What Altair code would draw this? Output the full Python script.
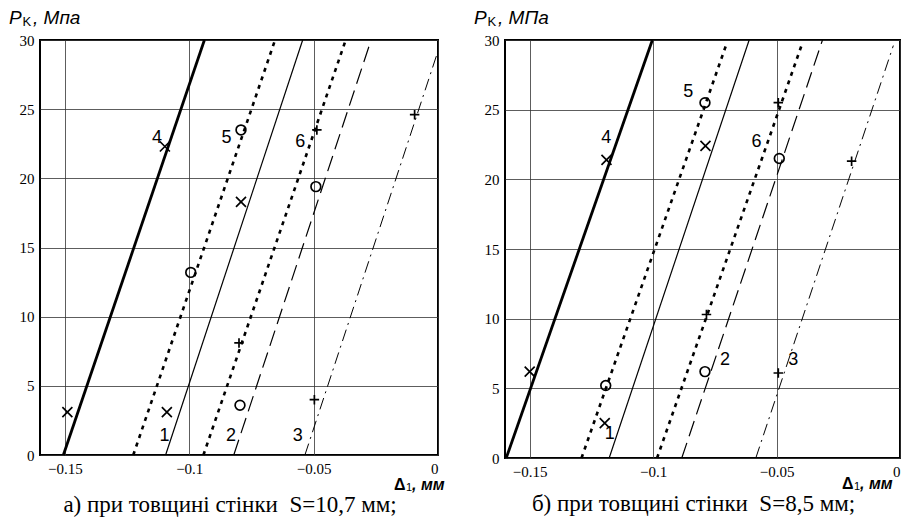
import altair as alt
import pandas as pd

curves = ["1", "2", "3", "4", "5", "6"]

# panel a: line end points
a_x0 = [-0.1095, -0.0821, -0.0535, -0.1506, -0.1225, -0.0943]
a_y0 = [0, 0, 0, 0, 0, 0]
a_x1 = [-0.0544, -0.0269, 0.0, -0.0939, -0.0655, -0.0371]
a_y1 = [30, 30, 29.2, 30, 30, 30]

# panel b
b_x0 = [-0.1178, -0.0884, -0.0584, -0.1595, -0.129, -0.0984]
b_y0 = [0, 0, 0, 0, 0, 0]
b_x1 = [-0.0611, -0.0314, -0.0027, -0.1003, -0.0705, -0.0395]
b_y1 = [30, 30, 29.6, 30, 29.6, 29.8]

# experimental points
a_mx = [-0.149, -0.109, -0.0796, -0.0497, -0.080, -0.0994, -0.0792, -0.0491, -0.1098, -0.0792, -0.0487, -0.0094]
a_my = [3.1, 3.1, 3.6, 4.0, 8.1, 13.2, 18.3, 19.4, 22.3, 23.5, 23.5, 24.6]
a_ms = ["x", "x", "o", "+", "+", "o", "x", "o", "x", "o", "+", "+"]

b_mx = [-0.150, -0.1192, -0.1196, -0.0784, -0.079, -0.0493, -0.1189, -0.079, -0.0788, -0.0493, -0.0489, -0.0196]
b_my = [6.2, 5.2, 2.5, 10.3, 6.2, 6.1, 21.4, 25.5, 22.4, 25.5, 21.5, 21.3]
b_ms = ["x", "o", "x", "+", "o", "+", "x", "o", "x", "+", "o", "+"]

# curve number labels
a_lx = [-0.110, -0.0832, -0.0564, -0.113, -0.085, -0.0554]
a_ly = [1.4, 1.4, 1.4, 22.9, 22.9, 22.6]
b_lx = [-0.1176, -0.0709, -0.0432, -0.119, -0.0858, -0.0581]
b_ly = [1.7, 7.0, 7.0, 23.0, 26.3, 22.7]

x_ticks = [-0.15, -0.1, -0.05, 0]
y_ticks = [0, 5, 10, 15, 20, 25, 30]

styles = {
    "1": dict(strokeWidth=1.2),
    "2": dict(strokeWidth=1.2, strokeDash=[16, 7]),
    "3": dict(strokeWidth=1.0, strokeDash=[12, 5, 2, 5]),
    "4": dict(strokeWidth=2.8),
    "5": dict(strokeWidth=2.6, strokeDash=[4, 5]),
    "6": dict(strokeWidth=2.6, strokeDash=[4, 5]),
}

CROSS = "M-1,-1L1,1M-1,1L1,-1"
PLUS = "M-1,0L1,0M0,-1L0,1"

xs = alt.Scale(domain=[-0.16, 0], nice=False, zero=False)
ys = alt.Scale(domain=[0, 30], nice=False)


def one():
    return alt.Chart(pd.DataFrame({"k": [0]}))


def txt(text, x, y, size, align="left", style="normal", weight="normal", font="Liberation Sans"):
    return one().mark_text(text=text, font=font, fontStyle=style, fontWeight=weight, fontSize=size,
                           align=align, baseline="middle", color="black").encode(
        x=alt.value(x), y=alt.value(y))


def panel(x0, y0, x1, y1, mx, my, ms, lx, ly, W, H, ylab, cap, dtx, dty, capdy):
    X = alt.X("x:Q", scale=xs, axis=alt.Axis(values=x_ticks, format=".2~f", title=None, grid=True,
                                                ticks=False, domain=False, labelFont="Liberation Serif",
                                                labelFontSize=15, labelPadding=6, labelColor="black",
                                                gridColor="#333", gridWidth=0.8))
    Y = alt.Y("y:Q", scale=ys, axis=alt.Axis(values=y_ticks, format="d", title=None, grid=True,
                                              ticks=False, domain=False, labelFont="Liberation Serif",
                                              labelFontSize=15, labelPadding=6, labelColor="black",
                                              gridColor="#333", gridWidth=0.8))
    layers = []
    for i, c in enumerate(curves):
        df = pd.DataFrame({"x": [x0[i], x1[i]], "y": [y0[i], y1[i]]})
        layers.append(alt.Chart(df).mark_line(color="black", **styles[c]).encode(x=X, y=Y))
    mdf = pd.DataFrame({"x": mx, "y": my, "s": ms})
    layers.append(alt.Chart(mdf).mark_point(filled=False, color="black", strokeWidth=1.7, opacity=1).encode(
        x=X, y=Y,
        shape=alt.Shape("s:N", scale=alt.Scale(domain=["x", "o", "+"], range=[CROSS, "circle", PLUS]), legend=None),
        size=alt.Size("s:N", scale=alt.Scale(domain=["x", "o", "+"], range=[100, 90, 170]), legend=None),
    ))
    ldf = pd.DataFrame({"x": lx, "y": ly, "t": curves})
    layers.append(alt.Chart(ldf).mark_text(font="Liberation Sans", fontSize=18, color="black",
                                           baseline="middle", align="center").encode(x=X, y=Y, text="t:N"))
    # y title  P_K, Мпа
    layers.append(txt("P", -31, -22, 19, style="italic"))
    layers.append(txt("K", -17.5, -18, 13))
    layers.append(txt(ylab, -7, -22, 19, style="italic"))
    # x title  Δ1, мм
    layers.append(txt("Δ", W + dtx - 49, H + dty, 16, weight="bold"))
    layers.append(txt("1", W + dtx - 37, H + dty + 3, 11))
    layers.append(txt(",\u00a0мм", W + dtx - 31, H + dty, 16, style="italic", weight="bold"))
    # caption
    layers.append(txt(cap, W / 2 - 9, H + capdy, 23, align="center", font="Liberation Serif"))
    return alt.layer(*layers).properties(width=W, height=H)


left = panel(a_x0, a_y0, a_x1, a_y1, a_mx, a_my, a_ms, a_lx, a_ly, 398, 415, ", Мпа",
             "а) при товщині стінки \u00a0S=10,7 мм;", 5, 30, 50)
right = panel(b_x0, b_y0, b_x1, b_y1, b_mx, b_my, b_ms, b_lx, b_ly, 395, 418, ", МПа",
              "б) при товщині стінки \u00a0S=8,5 мм;", -9, 26, 46)

chart = alt.hconcat(left, right, spacing=27).properties(
    padding={"left": 0, "top": 0, "right": 0, "bottom": 0},
    background="white",
).configure_view(stroke="black", strokeWidth=2)

chart.save("out.html", embed_options={"renderer": "svg", "actions": False})
